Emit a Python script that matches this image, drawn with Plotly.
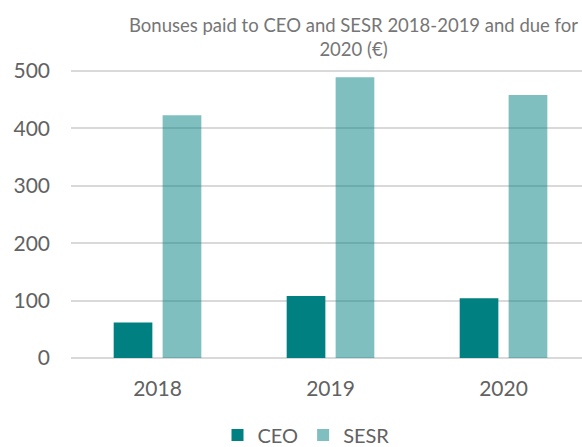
import plotly.graph_objects as go

years = ["2018", "2019", "2020"]
ceo = [62, 108, 104]
sesr = [423, 489, 458]
y_ticks = [0, 100, 200, 300, 400, 500]
title_text = "Bonuses paid to CEO and SESR 2018-2019 and due for<br>2020 (€)"

FONT = "Lato"
CEO_COLOR = "rgb(0,128,128)"
SESR_COLOR = "rgba(0,128,128,0.5)"
GRID = "rgb(217,217,217)"
TXT = "#626262"

fig = go.Figure()
fig.add_trace(go.Bar(name="CEO", x=years, y=ceo,
                     marker=dict(color=CEO_COLOR, line=dict(width=0))))
fig.add_trace(go.Bar(name="SESR", x=years, y=sesr,
                     marker=dict(color=SESR_COLOR, line=dict(width=0))))

# pixel geometry of the plot area
L, R = 71, 0
ZERO_PX, TOP_PX = 358, 68          # y pixel of value 0, top of plot area
PX_PER_UNIT = 0.574
plot_w = 582 - L - R
plot_h = ZERO_PX - TOP_PX
ymax = plot_h / PX_PER_UNIT
cat_px = 173.0
xmax = -0.5 + plot_w / cat_px

fig.update_layout(
    template="none",
    width=582, height=447,
    margin=dict(l=L, r=R, t=TOP_PX, b=447 - ZERO_PX, pad=0, autoexpand=False),
    paper_bgcolor="white", plot_bgcolor="white",
    barmode="group", bargap=0.434, bargroupgap=0.21,
    showlegend=True,
    legend=dict(orientation="h", xref="paper", x=(306 - L) / plot_w, xanchor="center",
                y=-(435 - ZERO_PX) / plot_h, yanchor="middle",
                font=dict(family=FONT, size=20, color=TXT),
                itemwidth=30, tracegroupgap=0, borderwidth=0,
                bgcolor="rgba(0,0,0,0)"),
    font=dict(family=FONT, color=TXT),
    annotations=[dict(text=title_text, xref="paper", yref="paper",
                      x=(353 - L) / plot_w, xanchor="center",
                      y=1 + (TOP_PX - 12) / plot_h, yanchor="top",
                      showarrow=False, align="center",
                      font=dict(family=FONT, size=18.5, color="#767676"))],
)
fig.update_xaxes(type="category", range=[-0.5, xmax],
                 showgrid=False, showline=False, zeroline=False,
                 tickfont=dict(family=FONT, size=21, color=TXT),
                 ticks="", ticklabelstandoff=16)
fig.update_yaxes(range=[0, ymax], tickvals=y_ticks,
                 showgrid=True, gridcolor=GRID, gridwidth=2,
                 zeroline=True, zerolinecolor=GRID, zerolinewidth=2,
                 showline=False,
                 tickfont=dict(family=FONT, size=21, color=TXT),
                 ticks="", ticklabelstandoff=20)

fig.write_html("out.html", config={"displayModeBar": False},
               post_script="document.body.style.margin='0';document.body.style.overflow='hidden';")
